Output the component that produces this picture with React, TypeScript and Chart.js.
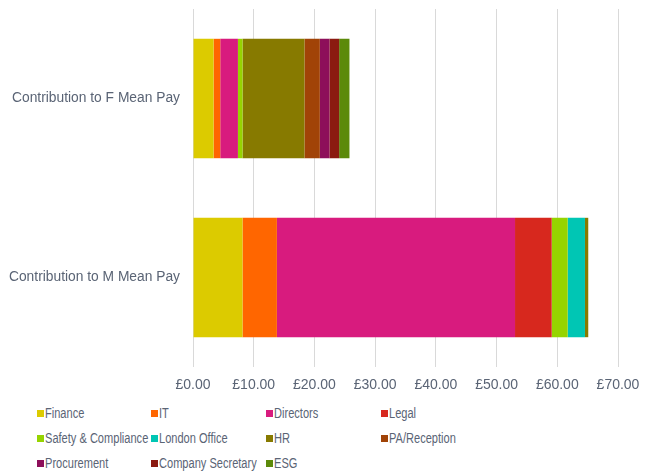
import React, { useEffect, useRef } from "react";
import { Chart, registerables } from "chart.js";

Chart.register(...registerables);

const categories = ["Contribution to F Mean Pay", "Contribution to M Mean Pay"];
const seriesNames = [
  "Finance",
  "IT",
  "Directors",
  "Legal",
  "Safety & Compliance",
  "London Office",
  "HR",
  "PA/Reception",
  "Procurement",
  "Company Secretary",
  "ESG",
];
// values per series: [F, M]
const finance = [3.39, 8.16];
const it = [1.1, 5.66];
const directors = [2.91, 39.22];
const legal = [0, 6.04];
const safety = [0.76, 2.63];
const london = [0, 2.85];
const hr = [10.2, 0.54];
const pa = [2.53, 0];
const procurement = [1.58, 0];
const coSec = [1.6, 0];
const esg = [1.7, 0];
const seriesValues = [finance, it, directors, legal, safety, london, hr, pa, procurement, coSec, esg];
const seriesColors = [
  "#dccb00",
  "#ff6600",
  "#d81b7e",
  "#d7281e",
  "#96d400",
  "#00c6b4",
  "#877a00",
  "#a14307",
  "#8d0f5a",
  "#8b1a10",
  "#5c8a0a",
];
const xTickMin = 0;
const xTickMax = 70;
const xTickStep = 10;

const FONT = "'Liberation Sans', Arial, Helvetica, sans-serif";
const TEXT = "#5a6475";

const legendCols = [36.7, 150.7, 265.7, 381];
const legendRows = [413.3, 438.3, 463.3];

export default function App() {
  const ref = useRef<HTMLCanvasElement>(null);
  useEffect(() => {
    if (!ref.current) return;
    const H = 400;
    const chart = new Chart(ref.current, {
      type: "bar",
      data: {
        labels: categories,
        datasets: seriesNames.map((n, i) => ({
          label: n,
          data: seriesValues[i],
          backgroundColor: seriesColors[i],
          borderWidth: 0,
          barPercentage: 0.667,
          categoryPercentage: 1,
        })),
      },
      options: {
        indexAxis: "y",
        animation: false,
        responsive: false,
        maintainAspectRatio: false,
        layout: { padding: { left: 0, right: 35, top: 9, bottom: 0 } },
        plugins: { legend: { display: false }, tooltip: { enabled: false } },
        scales: {
          x: {
            stacked: true,
            min: xTickMin,
            max: xTickMax,
            grid: { color: "#d9d9d9", lineWidth: 1, drawTicks: false },
            border: { display: false },
            ticks: {
              stepSize: xTickStep,
              padding: 10,
              color: TEXT,
              font: { family: FONT, size: 14 },
              callback: (v: any) => "£" + Number(v).toFixed(2),
            },
            afterFit: (s: any) => {
              s.height = H - 367;
            },
          },
          y: {
            stacked: true,
            grid: { display: false, drawTicks: false },
            border: { display: false },
            ticks: {
              padding: 13,
              color: TEXT,
              font: { family: FONT, size: 13.8 },
            },
            afterFit: (s: any) => {
              s.width = 193;
              s.paddingTop = 0;
              s.paddingBottom = 0;
            },
          },
        },
      },
    });
    return () => chart.destroy();
  }, []);

  return (
    <div
      style={{
        position: "fixed",
        left: 0,
        top: 0,
        width: 653,
        height: 472,
        background: "#fff",
        overflow: "hidden",
      }}
    >
      <canvas ref={ref} width={653} height={400} style={{ position: "absolute", left: 0, top: 0 }} />
      {seriesNames.map((n, i) => {
        const col = i % 4;
        const row = Math.floor(i / 4);
        const x = legendCols[col];
        const y = legendRows[row];
        return (
          <React.Fragment key={n}>
            <span
              style={{
                position: "absolute",
                left: x,
                top: y - 3.5,
                width: 7,
                height: 7,
                background: seriesColors[i],
              }}
            />
            <span
              style={{
                position: "absolute",
                left: x + 8,
                top: y - 8,
                height: 16,
                lineHeight: "16px",
                fontSize: 14,
                fontFamily: FONT,
                color: TEXT,
                whiteSpace: "nowrap",
                transform: "scaleX(0.79)",
                transformOrigin: "left center",
              }}
            >
              {n}
            </span>
          </React.Fragment>
        );
      })}
    </div>
  );
}
